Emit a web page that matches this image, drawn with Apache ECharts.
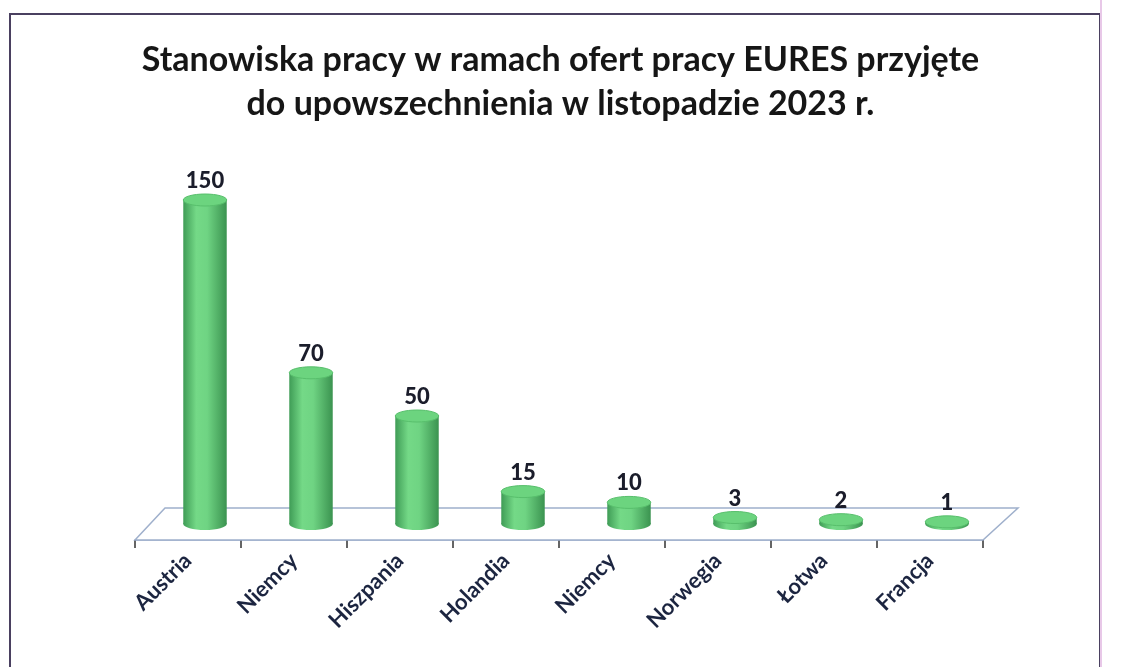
<!DOCTYPE html>
<html>
<head>
<meta charset="utf-8">
<script src="https://cdn.jsdelivr.net/npm/echarts@6/dist/echarts.min.js"></script>
<style>
  html, body { margin: 0; padding: 0; background: #ffffff; }
  #chart { width: 1121px; height: 667px; }
</style>
</head>
<body>
<div id="chart"></div>
<script>
// dane z wykresu
var titleText = 'Stanowiska pracy w ramach ofert pracy EURES przyjęte\ndo upowszechnienia w listopadzie 2023 r.';
var categories = ['Austria', 'Niemcy', 'Hiszpania', 'Holandia', 'Niemcy', 'Norwegia', 'Łotwa', 'Francja'];
var values = [150, 70, 50, 15, 10, 3, 2, 1];

var myChart = echarts.init(document.getElementById('chart'));

// przesuniecie "glebi" 3D
var DX = 17, DY = -16;
var FLOOR_DX = 30, FLOOR_DY = -32;

var barData = values.map(function (v, i) {
    return [i, v];
});

function renderCylinder(params, api) {
    var base = api.coord([api.value(0), 0]);
    var top = api.coord([api.value(0), api.value(1)]);
    var bw = api.size([1, 0])[0] * 0.41;
    var cx = base[0] + DX;
    var yb = base[1] + DY;
    var yt = top[1] + DY;
    var ry = 6;
    var bodyFill = new echarts.graphic.LinearGradient(0, 0, 1, 0, [
        {offset: 0, color: '#3f9c56'},
        {offset: 0.3, color: '#74d987'},
        {offset: 0.55, color: '#6fd483'},
        {offset: 1, color: '#3b9350'}
    ]);
    return {
        type: 'group',
        children: [
            {
                type: 'ellipse',
                shape: {cx: cx, cy: yb, rx: bw / 2, ry: ry},
                style: {fill: bodyFill}
            },
            {
                type: 'rect',
                shape: {x: cx - bw / 2, y: yt, width: bw, height: yb - yt},
                style: {fill: bodyFill}
            },
            {
                type: 'ellipse',
                shape: {cx: cx, cy: yt, rx: bw / 2, ry: ry},
                style: {fill: '#6cd47f', stroke: '#58bf6c', lineWidth: 1}
            },
            {
                type: 'text',
                x: cx,
                y: yt - ry - 2,
                style: {
                    text: String(api.value(1)),
                    align: 'center',
                    verticalAlign: 'bottom',
                    fill: '#1b1d2b',
                    font: '900 22px Lato, "Open Sans", sans-serif'
                }
            }
        ]
    };
}

function renderFloor(params, api) {
    var cs = params.coordSys;
    var y0 = cs.y + cs.height;
    var x0 = cs.x, x1 = cs.x + cs.width;
    return {
        type: 'polygon',
        silent: true,
        z2: -1,
        shape: {
            points: [
                [x0, y0], [x1, y0],
                [x1 + FLOOR_DX + 5, y0 + FLOOR_DY], [x0 + FLOOR_DX, y0 + FLOOR_DY]
            ]
        },
        style: {fill: '#ffffff', stroke: '#9fb0cc', lineWidth: 1.5}
    };
}

var option = {
    backgroundColor: '#ffffff',
    animation: false,
    title: {
        text: titleText,
        left: 'center',
        top: 33,
        textStyle: {
            color: '#161616',
            fontSize: 34,
            fontWeight: 'bold',
            fontFamily: 'Lato, "Open Sans", sans-serif',
            lineHeight: 44
        }
    },
    graphic: [
        {
            type: 'rect',
            shape: {x: 10, y: 14, width: 1090, height: 680},
            style: {fill: 'none', stroke: '#4a4060', lineWidth: 2},
            silent: true
        },
        {
            type: 'line',
            shape: {x1: 1101, y1: 0, x2: 1101, y2: 667},
            style: {stroke: '#e8c8e8', lineWidth: 2},
            silent: true
        }
    ],
    grid: {
        left: 135,
        right: 138,
        top: 216,
        bottom: 127
    },
    xAxis: {
        type: 'category',
        data: categories,
        axisLine: {
            lineStyle: {color: '#9fb0cc', width: 1.5}
        },
        axisTick: {
            show: true,
            length: 8,
            lineStyle: {color: '#333333', width: 1.5}
        },
        axisLabel: {
            rotate: 45,
            margin: 17,
            color: '#1c2540',
            fontSize: 22,
            fontWeight: 'bold',
            fontFamily: 'Lato, "Open Sans", sans-serif'
        }
    },
    yAxis: {
        type: 'value',
        min: 0,
        max: 150,
        show: false,
        splitLine: {show: false}
    },
    series: [
        {
            name: 'floor',
            type: 'custom',
            renderItem: renderFloor,
            data: [[0, 0]],
            z: 1
        },
        {
            name: 'Stanowiska',
            type: 'custom',
            renderItem: renderCylinder,
            data: barData,
            z: 2
        }
    ]
};

myChart.setOption(option);
</script>
</body>
</html>
